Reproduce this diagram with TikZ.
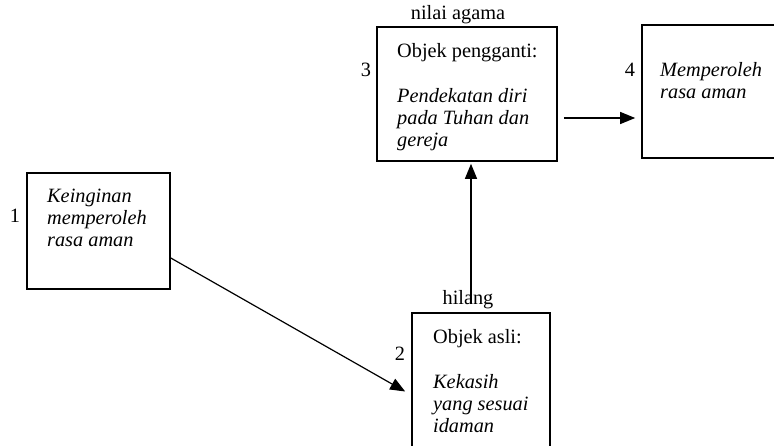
\documentclass[tikz,border=0pt]{standalone}
\usepackage{fontspec}
\setmainfont{Liberation Serif}
\usetikzlibrary{
    arrows.meta,
    calc,
    positioning
}

\begin{document}
\begin{tikzpicture}[x=1pt, y=-1pt,
    kotak/.style={draw, line width=1.6pt, rectangle, inner sep=0pt},
    isi/.style={anchor=base west, align=left, inner sep=0pt, font=\fontsize{20.3}{22}\selectfont},
    label/.style={anchor=base, inner sep=0pt, font=\fontsize{20.3}{22}\selectfont},
    panah/.style={line width=1.2pt, -{Triangle[length=15pt, width=12pt]}}]
    \useasboundingbox (0, 0) rectangle (774, 446);
    \clip (0, 0) rectangle (774, 446);

    \node[kotak, minimum width=143pt, minimum height=116pt] (keinginan) at (98.5, 231) {};
    \node[kotak, minimum width=180pt, minimum height=134pt] (pengganti) at (467, 94) {};
    \node[kotak, minimum width=168pt, minimum height=133pt] (aman) at (726, 91.5) {};
    \node[kotak, minimum width=138pt, minimum height=157pt] (asli) at (481, 391.5) {};

    % base anchor sits on the last line
    \node[isi] (keinginan-t) at (47, 247) {\textit{Keinginan}\\\textit{memperoleh}\\\textit{rasa aman}};
    \node[isi] (pengganti-t) at (397, 147) {Objek pengganti:\\[23pt]\textit{Pendekatan diri}\\\textit{pada Tuhan dan}\\\textit{gereja}};
    \node[isi] (aman-t) at (660, 99) {\textit{Memperoleh}\\\textit{rasa aman}};
    \node[isi] (asli-t) at (433, 432) {Objek asli:\\[23pt]\textit{Kekasih}\\\textit{yang sesuai}\\\textit{idaman}};

    \node[label] (n1) at (15, 223) {1};
    \node[label] (n2) at (400, 360) {2};
    \node[label] (n3) at (366, 77) {3};
    \node[label] (n4) at (630, 77) {4};
    \node[label] (agama) at (458, 20) {nilai agama};
    \node[label] (hilang) at (468, 305) {hilang};

    \draw[panah] ($(keinginan.east)+(0, 27)$) -- ($(asli.west)+(-6, 0)$);
    \draw[panah] ($(asli.north)+(-10, -8)$) -- ($(pengganti.south)+(4, 2)$);
    \draw[panah] ($(pengganti.east)+(6, 24)$) -- ($(aman.west)+(-6, 26.5)$);
\end{tikzpicture}
\end{document}
